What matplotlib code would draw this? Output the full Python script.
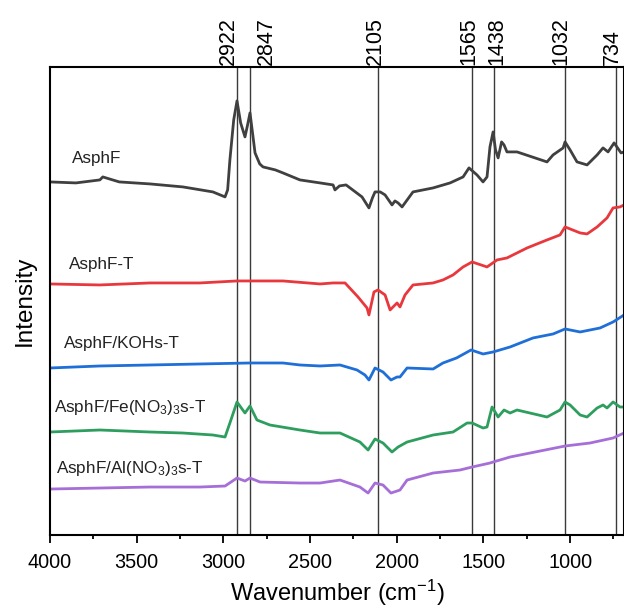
import matplotlib
matplotlib.use("Agg")
import matplotlib.pyplot as plt
import matplotlib.transforms as mtransforms
from matplotlib.ticker import MultipleLocator

plt.rcParams['font.family'] = ['Liberation Sans', 'DejaVu Sans']
plt.rcParams['mathtext.default'] = 'regular'

# peak positions marked with vertical lines
peaks = [2922, 2847, 2105, 1565, 1438, 1032, 734]
# small sideways shift of each peak label (points), so the two close ones don't collide
peak_dx = [-5.8, 12.2, -2.5, -2.5, 1.8, -2.9, -2.9]

# spectra (wavenumber, intensity in arbitrary units)
wn_asphf = [4000, 3850, 3712, 3695, 3600, 3423, 3233, 3060, 2990, 2975, 2962, 2940, 2921, 2900,
            2875, 2860, 2846, 2830, 2817, 2790, 2771, 2700, 2656, 2558, 2442, 2367, 2356, 2330,
            2292, 2200, 2160, 2140, 2125, 2095, 2067, 2027, 2010, 1992, 1969, 1906, 1790, 1692,
            1617, 1583, 1537, 1502, 1479, 1462, 1444, 1430, 1415, 1395, 1381, 1364, 1306, 1133,
            1098, 1040, 1029, 1000, 960, 902, 844, 810, 781, 746, 706, 689]
i_asphf = [353, 352, 355, 358, 353, 351, 348, 343, 338, 345, 375, 415, 434, 412,
           398, 410, 422, 400, 382, 371, 368, 365, 362, 355, 352, 350, 345, 349,
           350, 338, 327, 337, 343, 343, 340, 330, 334, 332, 328, 343, 347, 352,
           358, 367, 360, 353, 358, 388, 403, 385, 377, 393, 390, 383, 383, 373,
           380, 387, 393, 385, 373, 370, 380, 387, 383, 392, 382, 383]

wn_t = [4000, 3712, 3423, 3135, 2921, 2846, 2656, 2442, 2367, 2298, 2223, 2171, 2160, 2131,
        2108, 2067, 2038, 2021, 1998, 1981, 1952, 1906, 1790, 1733, 1675, 1617, 1565, 1479,
        1421, 1364, 1248, 1133, 1058, 1029, 942, 902, 844, 787, 752, 712, 689]
i_t = [251, 250, 252, 252, 254, 254, 254, 251, 252, 252, 238, 227, 220, 243,
       245, 240, 225, 228, 232, 228, 240, 250, 252, 255, 260, 268, 273, 268,
       275, 277, 287, 295, 300, 308, 302, 301, 308, 317, 327, 328, 330]

wn_koh = [4000, 3712, 3423, 3135, 2846, 2656, 2558, 2442, 2327, 2229, 2183, 2160, 2125, 2079,
          2033, 1998, 1981, 1940, 1790, 1733, 1655, 1571, 1502, 1444, 1346, 1214, 1098, 1029,
          942, 827, 752, 689]
i_koh = [167, 169, 170, 171, 172, 172, 170, 169, 170, 165, 160, 155, 167, 163,
         155, 158, 158, 167, 166, 172, 177, 185, 181, 183, 188, 197, 201, 206,
         203, 207, 213, 220]

wn_fe = [4000, 3712, 3423, 3233, 3060, 2990, 2962, 2921, 2875, 2846, 2806, 2731, 2558, 2442,
         2327, 2212, 2165, 2125, 2079, 2027, 1992, 1940, 1790, 1675, 1594, 1565, 1502, 1479,
         1450, 1415, 1381, 1346, 1306, 1133, 1058, 1029, 1000, 942, 902, 844, 810, 787,
         752, 712, 689]
i_fe = [103, 105, 103, 102, 100, 98, 112, 133, 122, 129, 115, 110, 105, 102,
        102, 93, 85, 96, 92, 83, 88, 93, 100, 103, 112, 112, 107, 108,
        128, 118, 125, 122, 125, 118, 125, 133, 130, 120, 118, 127, 130, 127,
        133, 128, 128]

wn_al = [4000, 3712, 3423, 3135, 2990, 2921, 2875, 2846, 2788, 2558, 2442, 2327, 2212, 2165,
         2125, 2079, 2033, 1981, 1940, 1790, 1635, 1565, 1462, 1444, 1346, 1173, 1029, 885,
         752, 689]
i_al = [46, 47, 48, 48, 49, 57, 54, 57, 53, 52, 52, 55, 48, 42,
        52, 50, 42, 45, 55, 62, 65, 68, 72, 73, 78, 84, 89, 92,
        97, 102]

labels = ['AsphF', 'AsphF-T', 'AsphF/KOHs-T',
          'AsphF/Fe(NO$_3$)$_3$s-T', 'AsphF/Al(NO$_3$)$_3$s-T']
label_y = [376, 270, 191, 127, 67]
label_x = [3873, 3890, 3919, 3975, 3965]
colors = ['#404040', '#e8383d', '#1f6fd8', '#2e9e5f', '#a66fd8']

fig = plt.figure(figsize=(6.24, 6.08), dpi=100)
ax = fig.add_axes([0.080, 0.120, 0.920, 0.770])

series = [(wn_asphf, i_asphf), (wn_t, i_t), (wn_koh, i_koh), (wn_fe, i_fe), (wn_al, i_al)]
for (x, y), c in zip(series, colors):
    ax.plot(x, y, color=c, lw=2.0, solid_joinstyle='round')

for lab, lx, ly in zip(labels, label_x, label_y):
    ax.text(lx, ly, lab, fontsize=12.3, va='center', ha='left', color='#222222')

for p in peaks:
    ax.axvline(p, color='#3a3a3a', lw=1.0, zorder=0)

trans = mtransforms.blended_transform_factory(ax.transData, ax.transAxes)
for p, dx in zip(peaks, peak_dx):
    ax.annotate(str(p), xy=(p, 1.0), xycoords=trans, xytext=(dx, 1.5),
                textcoords='offset points', rotation=90, ha='center', va='bottom',
                fontsize=15.5)

ax.set_xlim(4000, 689)
ax.set_ylim(0, 468)
ax.xaxis.set_major_locator(MultipleLocator(500))
ax.xaxis.set_minor_locator(MultipleLocator(250))
ax.tick_params(axis='x', which='major', direction='out', length=6, width=1.3,
               labelsize=14.3, pad=7)
ax.tick_params(axis='x', which='minor', direction='out', length=3, width=1.3)
ax.set_yticks([])
for s in ax.spines.values():
    s.set_linewidth(1.5)

ax.set_xlabel('Wavenumber (cm$^{-1}$)', fontsize=17, labelpad=4)
ax.set_ylabel('Intensity', fontsize=17.5, labelpad=10)

fig.savefig('out.png', dpi=100)
